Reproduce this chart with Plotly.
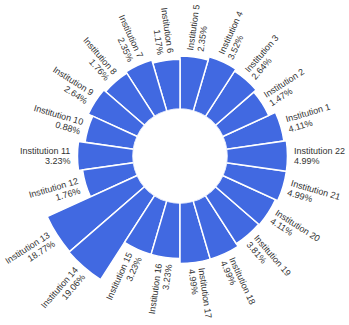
import math
import plotly.graph_objects as go

# ---- data ----
institutions = [f"Institution {i}" for i in range(1, 23)]
shares = [4.11, 1.47, 2.64, 3.52, 2.35, 1.17, 2.35, 1.76, 2.64, 0.88, 3.23,
          1.76, 18.77, 19.06, 3.23, 3.23, 4.99, 4.99, 3.81, 4.11, 4.99, 4.99]
percent_labels = [f"{v:.2f}%" for v in shares]

# ---- layout constants ----
W, H = 349, 325
CX, CY = 180.0, 156.0       # polar centre in px
R_PX = 149.5                 # outer radius of polar area in px
HOLE_PX = 47.0
HOLE = HOLE_PX / R_PX
R_MIN, R_MAX = -16.6, 20.0   # radial axis range
PX_PER_UNIT = (R_PX - HOLE_PX) / (R_MAX - R_MIN)

n = len(institutions)
step = 360.0 / n
thetas = [(i + 1) * step for i in range(n)]
bar_len = [v - R_MIN for v in shares]

fig = go.Figure(go.Barpolar(
    r=bar_len, theta=thetas, base=R_MIN, width=step,
    marker=dict(color="#4169E1", line=dict(color="white", width=1.5)),
    hoverinfo="skip", showlegend=False,
))

# ---- label metrics (Arial) ----
ARIAL = {"I": 278, "n": 556, "s": 500, "t": 278, "i": 222, "u": 556, "o": 556,
         " ": 278, ".": 278, "%": 889}
FS = 9


def text_w(s):
    return sum(ARIAL.get(c, 556) for c in s) * FS / 1000.0


GAP = 6.5
LINE = 10.0
annotations = []
for name, pct, th, v in zip(institutions, percent_labels, thetas, shares):
    a = math.radians(th)
    ux, uy = math.cos(a), math.sin(a)
    r_out = HOLE_PX + (v - R_MIN) * PX_PER_UNIT
    left = 90 < (th % 360) < 270
    if left:
        down = (-math.sin(a), math.cos(a))
        angle = 180 - th
    else:
        down = (math.sin(a), -math.cos(a))
        angle = -th
    while angle > 180:
        angle -= 360
    while angle < -180:
        angle += 360
    for txt, off in ((name, -LINE / 2), (pct, LINE / 2)):
        d = r_out + GAP + text_w(txt) / 2
        x = ux * d + down[0] * off
        y = uy * d + down[1] * off
        px, py = CX + x, CY - y
        annotations.append(dict(
            x=px / W, y=1 - py / H, xref="paper", yref="paper",
            text=txt, showarrow=False, textangle=angle,
            xanchor="center", yanchor="middle", borderpad=0,
            font=dict(family="Arial, Liberation Sans, sans-serif", size=FS, color="#333"),
        ))

fig.update_layout(
    width=W, height=H,
    margin=dict(l=0, r=0, t=0, b=0),
    paper_bgcolor="white",
    plot_bgcolor="white",
    polar=dict(
        domain=dict(x=[(CX - R_PX) / W, (CX + R_PX) / W],
                    y=[1 - (CY + R_PX) / H, 1 - (CY - R_PX) / H]),
        hole=HOLE,
        bargap=0,
        bgcolor="white",
        radialaxis=dict(visible=False, range=[R_MIN, R_MAX]),
        angularaxis=dict(visible=False, direction="counterclockwise", rotation=0),
    ),
    annotations=annotations,
)

fig.write_html("out.html", config={"displayModeBar": False},
               post_script="document.body.style.margin='0';document.body.style.overflow='hidden';")
